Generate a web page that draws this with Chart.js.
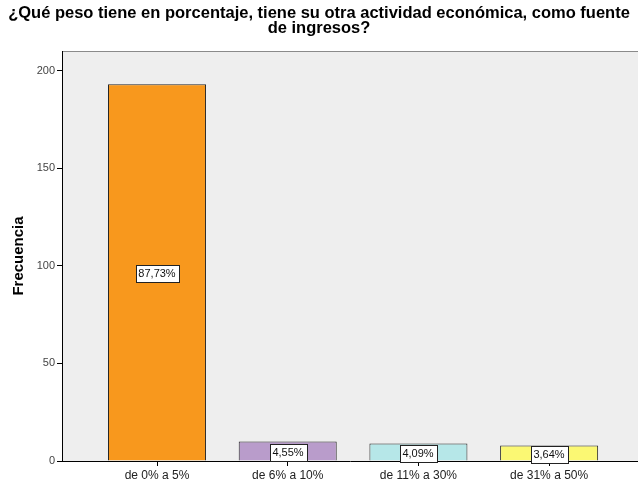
<!DOCTYPE html>
<html>
<head>
<meta charset="utf-8">
<script src="https://cdn.jsdelivr.net/npm/chart.js@4/dist/chart.umd.min.js"></script>
<style>
  html, body { margin: 0; padding: 0; background: #fff; overflow: hidden; }
  #chartCanvas { display: block; }
</style>
</head>
<body>
<canvas id="chartCanvas" width="638" height="482"></canvas>
<script>
const categories = ['de 0% a 5%', 'de 6% a 10%', 'de 11% a 30%', 'de 31% a 50%'];
const frequencies = [193, 10, 9, 8];
const barColors = ['#F8981D', '#B99CCB', '#B6E7E8', '#FBF873'];
const yTicks = [0, 50, 100, 150, 200];

const total = frequencies.reduce((a, b) => a + b, 0);
const fontFamily = '"Liberation Sans", Arial, sans-serif';

const chartContainer = document.getElementById('chartCanvas');

// grey plot background with a thin top border
const plotBackground = {
  id: 'plotBackground',
  beforeDraw(chart) {
    const { ctx, chartArea: a } = chart;
    ctx.save();
    ctx.fillStyle = '#EEEEEE';
    ctx.fillRect(a.left, a.top, a.right - a.left, a.bottom - a.top);
    ctx.strokeStyle = '#8A8A8A';
    ctx.lineWidth = 1;
    ctx.beginPath();
    ctx.moveTo(a.left, a.top + 0.5);
    ctx.lineTo(a.right, a.top + 0.5);
    ctx.stroke();
    ctx.restore();
  }
};

// percentage boxes in the middle of each bar
const percentLabels = {
  id: 'percentLabels',
  afterDatasetsDraw(chart) {
    const { ctx } = chart;
    const meta = chart.getDatasetMeta(0);
    ctx.save();
    ctx.font = '11px ' + fontFamily;
    ctx.textAlign = 'center';
    ctx.textBaseline = 'middle';
    meta.data.forEach((bar, i) => {
      const pct = (frequencies[i] / total * 100).toFixed(2).replace('.', ',') + '%';
      const w = Math.round(ctx.measureText(pct).width + 6);
      const h = 17;
      const cx = Math.round(bar.x);
      const cy = Math.round((bar.y + bar.base) / 2) + 1;
      const x0 = Math.round(cx - w / 2) + 0.5;
      const y0 = Math.round(cy - h / 2) + 0.5;
      ctx.fillStyle = '#FFFFFF';
      ctx.fillRect(x0, y0, w, h);
      ctx.strokeStyle = '#222222';
      ctx.lineWidth = 1;
      ctx.strokeRect(x0, y0, w, h);
      ctx.fillStyle = '#111111';
      ctx.fillText(pct, cx, cy + 1);
    });
    ctx.restore();
  }
};

const myChart = new Chart(chartContainer, {
  type: 'bar',
  data: {
    datasets: [{
      data: frequencies.map((v, i) => ({ x: i, y: v })),
      backgroundColor: barColors,
      borderColor: '#262626',
      borderWidth: 1,
      categoryPercentage: 1,
      barPercentage: 0.75,
    }],
  },
  options: {
    responsive: false,
    animation: false,
    layout: { padding: 0 },
    plugins: {
      legend: { display: false },
      tooltip: { enabled: false },
      title: {
        display: true,
        text: ['¿Qué peso tiene en porcentaje, tiene su otra actividad económica, como fuente', 'de ingresos?'],
        color: '#000',
        font: { family: fontFamily, size: 16.5, weight: 'bold', lineHeight: '15px' },
        padding: { top: 6, bottom: 15 },
      },
    },
    scales: {
      x: {
        type: 'linear',
        offset: false,
        min: -0.727,
        max: 3.68,
        afterBuildTicks: (s) => { s.ticks = categories.map((c, i) => ({ value: i })); },
        afterFit: (s) => { s.height = 21; },
        ticks: {
          color: '#222',
          font: { family: fontFamily, size: 12 },
          padding: 2,
          maxRotation: 0,
          autoSkip: false,
          callback: (v) => categories[v] || '',
        },
        grid: { offset: false, drawOnChartArea: false, tickLength: 5, color: '#000' },
        border: { color: '#000', width: 1 },
      },
      y: {
        min: 0,
        max: 210,
        afterBuildTicks: (s) => { s.ticks = yTicks.map(v => ({ value: v })); },
        afterFit: (s) => { s.width = 62; },
        ticks: {
          color: '#444',
          font: { family: fontFamily, size: 11 },
          padding: 2,
        },
        grid: { drawOnChartArea: false, tickLength: 5, color: '#000' },
        border: { color: '#000', width: 1 },
        title: {
          display: true,
          text: 'Frecuencia',
          color: '#000',
          font: { family: fontFamily, size: 15, weight: 'bold' },
          padding: { top: 10, bottom: 0 },
        },
      },
    },
  },
  plugins: [plotBackground, percentLabels],
});
</script>
</body>
</html>
